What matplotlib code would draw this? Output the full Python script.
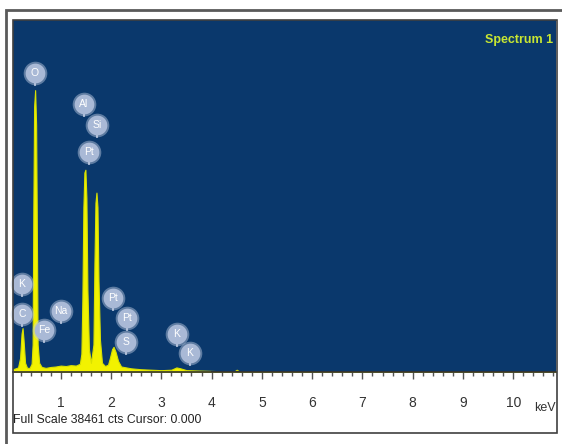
import matplotlib
matplotlib.use("Agg")
import matplotlib.pyplot as plt
from matplotlib.patches import Rectangle
from matplotlib.ticker import MultipleLocator

plt.rcParams['font.family'] = ['Liberation Sans Narrow', 'Liberation Sans', 'DejaVu Sans']

# spectrum outline (keV, counts)
energy = [0.05, 0.15, 0.19, 0.22, 0.24, 0.26, 0.29, 0.33, 0.38, 0.42, 0.44, 0.455,
          0.47, 0.49, 0.51, 0.525, 0.54, 0.57, 0.62, 0.70, 0.80, 0.90, 1.00, 1.10,
          1.20, 1.30, 1.38, 1.41, 1.43, 1.45, 1.47, 1.49, 1.51, 1.53, 1.56, 1.60,
          1.65, 1.67, 1.69, 1.71, 1.73, 1.75, 1.78, 1.82, 1.88, 1.94, 1.98, 2.02,
          2.05, 2.09, 2.14, 2.20, 2.30, 2.40, 2.60, 2.80, 3.00, 3.20, 3.30, 3.38,
          3.50, 3.80, 4.00, 4.20, 4.45, 4.50, 4.55, 4.70, 5.00, 6.00, 10.85]
counts = [300, 500, 1500, 4200, 4800, 3500, 1000, 450, 450, 900, 3000, 18000,
          29000, 30800, 27000, 15000, 3000, 1000, 550, 450, 550, 600, 700, 650,
          750, 700, 900, 2000, 8000, 18000, 21800, 22100, 19000, 9000, 2500, 1000,
          3000, 12000, 18500, 19600, 18000, 10000, 3500, 1000, 650, 800, 1600, 2500,
          2750, 2200, 1200, 600, 500, 400, 300, 250, 200, 250, 500, 400,
          200, 150, 120, 80, 60, 250, 60, 40, 20, 10, 0]

# element markers: name, keV, counts
lbl_names = ['O', 'Al', 'Si', 'Pt', 'K', 'C', 'Fe', 'Na', 'Pt', 'Pt', 'S', 'K', 'K']
lbl_kev = [0.487, 1.461, 1.72, 1.56, 0.229, 0.229, 0.666, 1.004, 2.038, 2.316, 2.296, 3.31, 3.569]
lbl_cts = [32670, 29283, 26988, 24038, 9615, 6337, 4589, 6665, 8085, 5900, 3278, 4152, 2076]

full_scale = 38461
W, H = 562, 444

fig = plt.figure(figsize=(W / 100, H / 100), dpi=100)
fig.patch.set_facecolor('white')

def fx(px):
    return px / W

def fy(py):
    return 1 - py / H

# outer frame and inner panel border
fig.add_artist(Rectangle((fx(6), fy(450)), fx(570) - fx(6), fy(10) - fy(450),
                         transform=fig.transFigure, fill=False, ec='#5a5a5a', lw=2))
fig.add_artist(Rectangle((fx(13), fy(433)), fx(557) - fx(13), fy(20) - fy(433),
                         transform=fig.transFigure, fill=False, ec='#404040', lw=1.2))

ax = fig.add_axes([fx(13), fy(372), fx(556) - fx(13), fy(20) - fy(372)])
ax.set_facecolor('#0a386c')
ax.fill_between(energy, counts, color='#f2f200', lw=0.8, edgecolor='#d8e000')
ax.plot([4.0, 10.85], [0, 0], color='#3a3a3a', lw=1.5)

for name, x, y in zip(lbl_names, lbl_kev, lbl_cts):
    ax.plot([x, x], [y - 1300, y], color='#b5c3dc', lw=1.3, zorder=3, clip_on=False)
    ax.plot(x, y, 'o', ms=17, color='#c3cfe3', alpha=0.45, mec='none', zorder=4, clip_on=False)
    ax.plot(x, y, 'o', ms=14.2, color='#a9b9d6', mec='none', zorder=5, clip_on=False)
    ax.text(x, y, name, color='white', fontsize=7.5, ha='center', va='center', zorder=6)

ax.set_xlim(0.05, 10.85)
ax.set_ylim(0, full_scale)
ax.set_yticks([])
ax.xaxis.set_major_locator(MultipleLocator(1))
ax.xaxis.set_minor_locator(MultipleLocator(0.2))
ax.tick_params(axis='x', which='major', direction='out', length=5, width=1,
               color='#555555', labelsize=10, labelcolor='#333333', pad=12)
ax.tick_params(axis='x', which='minor', direction='out', length=3, width=1, color='#555555')
ax.set_xticks(range(1, 11))
for s in ['top', 'left', 'right']:
    ax.spines[s].set_visible(False)
ax.spines['bottom'].set_color('#333333')
ax.spines['bottom'].set_linewidth(1.2)

ax.text(0.995, 0.96, 'Spectrum 1', transform=ax.transAxes, ha='right', va='top',
        color='#c8e632', fontsize=9, fontweight='bold')
fig.text(fx(556), fy(408), 'keV', ha='right', va='center', color='#333333', fontsize=9)
fig.text(fx(13), fy(420), 'Full Scale 38461 cts Cursor: 0.000', ha='left', va='center',
         color='#222222', fontsize=8.8)

fig.savefig('out.png', dpi=100)
